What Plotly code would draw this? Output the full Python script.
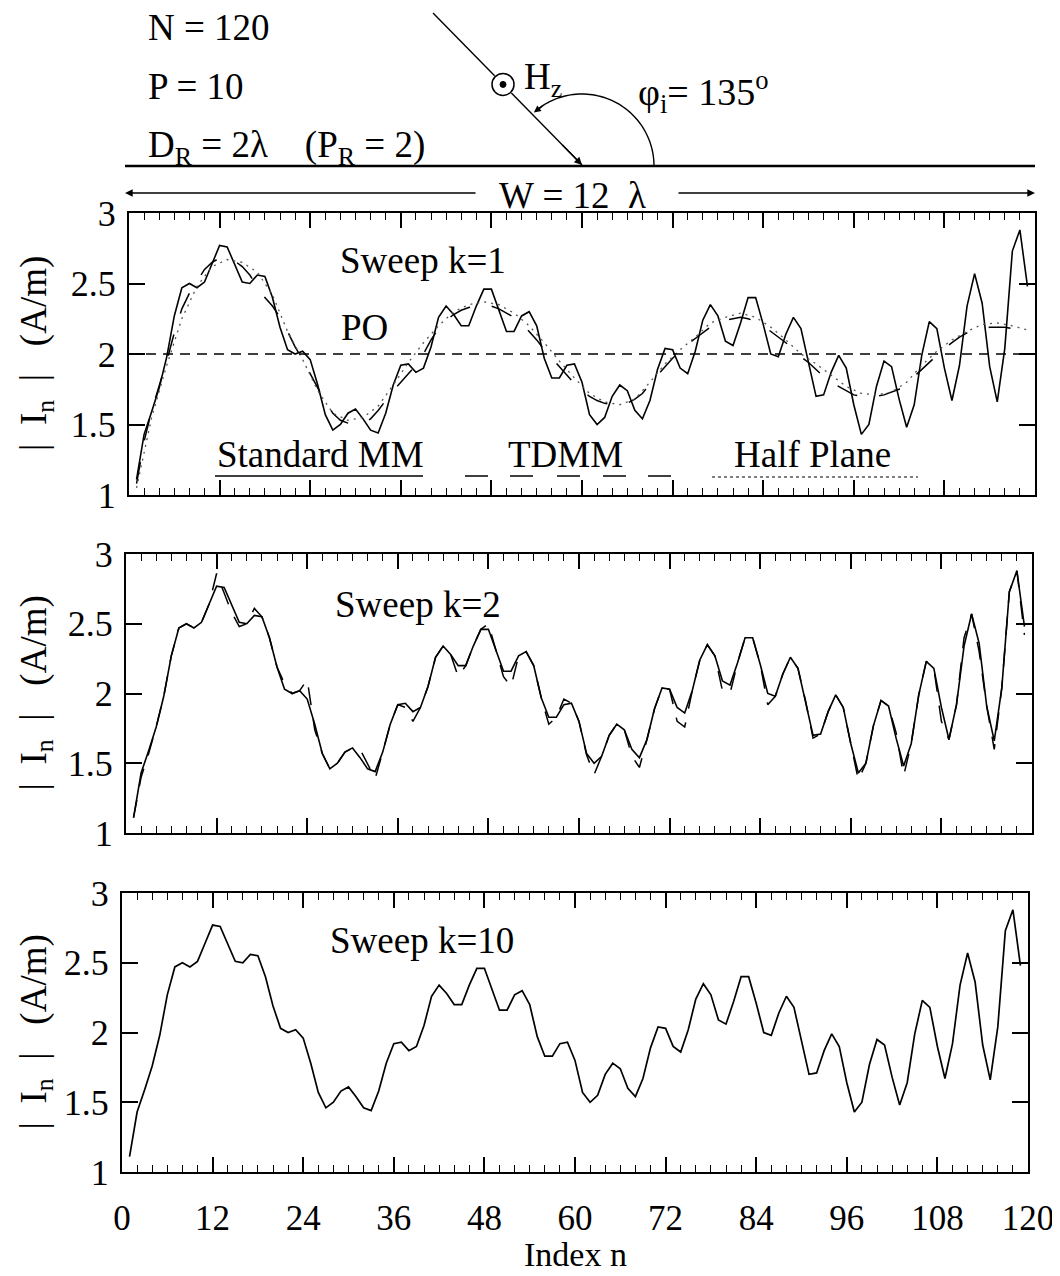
import numpy as np
import plotly.graph_objects as go

W, H = 1060, 1276
FONT = "Liberation Serif, Times New Roman, serif"

# ---------------- data ----------------
n_idx = list(range(1, 120))
mm = [1.11, 1.43, 1.59, 1.76, 1.98, 2.27, 2.47, 2.50, 2.47, 2.51,
      2.64, 2.77, 2.76, 2.64, 2.51, 2.50, 2.56, 2.55, 2.40, 2.19,
      2.03, 2.00, 2.02, 1.96, 1.78, 1.57, 1.46, 1.50, 1.58, 1.61,
      1.54, 1.46, 1.44, 1.58, 1.78, 1.92, 1.93, 1.87, 1.90, 2.05,
      2.26, 2.34, 2.28, 2.20, 2.20, 2.34, 2.46, 2.46, 2.31, 2.16,
      2.16, 2.27, 2.30, 2.20, 1.97, 1.83, 1.83, 1.92, 1.93, 1.80,
      1.57, 1.50, 1.55, 1.70, 1.78, 1.74, 1.60, 1.54, 1.67, 1.89,
      2.04, 2.03, 1.90, 1.86, 2.02, 2.24, 2.35, 2.27, 2.09, 2.06,
      2.22, 2.40, 2.40, 2.21, 2.00, 1.98, 2.14, 2.26, 2.18, 1.95,
      1.70, 1.71, 1.87, 1.99, 1.90, 1.64, 1.43, 1.50, 1.77, 1.95,
      1.91, 1.68, 1.48, 1.64, 1.99, 2.23, 2.18, 1.90, 1.67, 1.92,
      2.34, 2.57, 2.36, 1.91, 1.66, 2.04, 2.73, 2.88, 2.48]

tdmm_k1 = [1.08, 1.38, 1.60, 1.78, 1.95, 2.15, 2.32, 2.43, 2.52, 2.60,
           2.65, 2.68, 2.68, 2.66, 2.62, 2.56, 2.48, 2.40, 2.34, 2.26,
           2.16, 2.05, 1.96, 1.86, 1.76, 1.66, 1.58, 1.53, 1.51, 1.50,
           1.51, 1.54, 1.60, 1.67, 1.74, 1.80, 1.86, 1.92, 2.00, 2.10,
           2.18, 2.24, 2.28, 2.31, 2.33, 2.34, 2.35, 2.34, 2.32, 2.29,
           2.26, 2.21, 2.16, 2.10, 2.03, 1.97, 1.91, 1.85, 1.79, 1.74,
           1.70, 1.67, 1.65, 1.64, 1.64, 1.65, 1.68, 1.72, 1.79, 1.85,
           1.91, 1.97, 2.02, 2.07, 2.11, 2.15, 2.19, 2.22, 2.24, 2.25,
           2.26, 2.25, 2.23, 2.20, 2.16, 2.12, 2.08, 2.03, 1.98, 1.94,
           1.89, 1.84, 1.80, 1.77, 1.74, 1.71, 1.70, 1.70, 1.70, 1.71,
           1.73, 1.75, 1.79, 1.84, 1.89, 1.94, 1.99, 2.04, 2.08, 2.12,
           2.15, 2.17, 2.18, 2.19, 2.19, 2.19, 2.18, 2.17, 2.16]

tdmm_k2 = [1.11, 1.40, 1.57, 1.76, 1.98, 2.27, 2.47, 2.50, 2.47, 2.51,
           2.64, 2.86, 2.72, 2.58, 2.48, 2.50, 2.61, 2.55, 2.40, 2.19,
           2.07, 2.00, 2.02, 2.10, 1.74, 1.57, 1.46, 1.50, 1.58, 1.61,
           1.60, 1.50, 1.39, 1.58, 1.78, 1.92, 1.90, 1.80, 1.90, 2.05,
           2.26, 2.34, 2.28, 2.12, 2.20, 2.34, 2.46, 2.50, 2.31, 2.12,
           2.05, 2.27, 2.30, 2.20, 1.97, 1.78, 1.83, 1.96, 1.93, 1.80,
           1.56, 1.42, 1.55, 1.70, 1.78, 1.74, 1.55, 1.47, 1.67, 1.89,
           2.04, 2.03, 1.80, 1.76, 2.02, 2.24, 2.35, 2.27, 2.02, 2.00,
           2.22, 2.40, 2.40, 2.21, 1.92, 1.98, 2.14, 2.26, 2.18, 1.95,
           1.68, 1.71, 1.87, 1.99, 1.90, 1.64, 1.38, 1.50, 1.77, 1.95,
           1.91, 1.72, 1.41, 1.64, 1.99, 2.23, 2.18, 1.80, 1.67, 1.92,
           2.40, 2.57, 2.30, 1.91, 1.60, 2.04, 2.73, 2.88, 2.42]

hp_n = list(range(1, 120, 2))
half_plane = [1.05, 1.55, 1.92, 2.25, 2.48, 2.62, 2.67, 2.65, 2.58, 2.42,
              2.16, 1.96, 1.74, 1.58, 1.53, 1.55, 1.63, 1.78, 1.94, 2.08,
              2.20, 2.30, 2.35, 2.37, 2.35, 2.29, 2.20, 2.08, 1.95, 1.83,
              1.72, 1.66, 1.64, 1.68, 1.80, 1.93, 2.03, 2.12, 2.22, 2.26,
              2.29, 2.26, 2.19, 2.10, 2.00, 1.93, 1.85, 1.77, 1.72, 1.71,
              1.73, 1.80, 1.92, 2.02, 2.10, 2.16, 2.21, 2.22, 2.20, 2.17]

po_n = [0, 120]
po_val = [2.0, 2.0]

x_ticks = [0, 12, 24, 36, 48, 60, 72, 84, 96, 108, 120]
y_ticks = [1, 1.5, 2, 2.5, 3]
y_ticktext = ["1", "1.5", "2", "2.5", "3"]

# ---------------- layout helpers ----------------
OFF = 8  # page body margin offset compensation

def px(x):
    return (x - OFF) / W

def py(y):
    return 1 - (y - OFF) / H

# panel boxes in screen pixels: (left, right, top, bottom)
panels = [(129, 1035, 213, 495), (126, 1032, 554, 833), (122, 1028, 893, 1172)]

fig = go.Figure()
BLACK = "black"

# panel 1
fig.add_trace(go.Scatter(x=n_idx, y=mm, mode="lines", line=dict(color=BLACK, width=1.6),
                         xaxis="x", yaxis="y", showlegend=False))
fig.add_trace(go.Scatter(x=n_idx, y=tdmm_k1, mode="lines",
                         line=dict(color=BLACK, width=1.5, dash="22px,22px"),
                         xaxis="x", yaxis="y", showlegend=False))
fig.add_trace(go.Scatter(x=hp_n, y=half_plane, mode="lines",
                         line=dict(color="#555", width=1.3, dash="2px,5px"),
                         xaxis="x", yaxis="y", showlegend=False))
fig.add_trace(go.Scatter(x=po_n, y=po_val, mode="lines",
                         line=dict(color=BLACK, width=1.4, dash="10px,7px"),
                         xaxis="x", yaxis="y", showlegend=False))
# panel 2
fig.add_trace(go.Scatter(x=n_idx, y=mm, mode="lines", line=dict(color=BLACK, width=1.6),
                         xaxis="x2", yaxis="y2", showlegend=False))
fig.add_trace(go.Scatter(x=n_idx, y=tdmm_k2, mode="lines",
                         line=dict(color=BLACK, width=1.5, dash="18px,14px"),
                         xaxis="x2", yaxis="y2", showlegend=False))
# panel 3
fig.add_trace(go.Scatter(x=n_idx, y=mm, mode="lines", line=dict(color=BLACK, width=1.7),
                         xaxis="x3", yaxis="y3", showlegend=False))

layout = dict(
    template="none",
    width=W, height=H, autosize=False,
    margin=dict(l=0, r=0, t=0, b=0, pad=0),
    paper_bgcolor="white", plot_bgcolor="white",
    font=dict(family=FONT, color=BLACK, size=36),
)

for i, (l, r, t, b) in enumerate(panels):
    sfx = "" if i == 0 else str(i + 1)
    layout["xaxis" + sfx] = dict(
        domain=[px(l), px(r)], range=[0, 120], anchor="y" + sfx,
        automargin=False,
        showline=True, linecolor=BLACK, linewidth=2, mirror="allticks",
        ticks="inside", ticklen=15, tickwidth=1.5, tickcolor=BLACK,
        tickvals=x_ticks, showgrid=False, zeroline=False,
        minor=dict(dtick=2, ticks="inside", ticklen=7, tickwidth=1.3,
                   tickcolor=BLACK, showgrid=False),
        showticklabels=(i == 2), tickfont=dict(size=35, family=FONT, color=BLACK),
        ticklabelstandoff=14,
    )
    layout["yaxis" + sfx] = dict(
        domain=[py(b), py(t)], range=[1, 3], anchor="x" + sfx,
        automargin=False,
        showline=True, linecolor=BLACK, linewidth=2, mirror="allticks",
        ticks="inside", ticklen=16, tickwidth=1.5, tickcolor=BLACK,
        tickvals=y_ticks, ticktext=y_ticktext, showgrid=False, zeroline=False,
        tickfont=dict(size=36, family=FONT, color=BLACK), ticklabelstandoff=4,
    )

fig.update_layout(**layout)

# ---------------- annotations (text) ----------------
ann = []
def text(s, x, y, xanchor="center", size=37, yanchor="middle", angle=0):
    ann.append(dict(text=s, x=px(x), y=py(y), xref="paper", yref="paper",
                    xanchor=xanchor, yanchor=yanchor, showarrow=False,
                    textangle=angle, font=dict(family=FONT, size=size, color=BLACK)))

text("N = 120", 146, 28, xanchor="left")
text("P = 10", 146, 86, xanchor="left")
text("D<sub>R</sub> = 2λ    (P<sub>R</sub> = 2)", 146, 147, xanchor="left")
text("H<sub>z</sub>", 522, 80, xanchor="left")
text("φ<sub>i</sub>= 135<sup>o</sup>", 636, 92, xanchor="left", size=38)
text("W = 12  λ", 572, 195)

text("Sweep k=1", 423, 260)
text("PO", 364, 328)
text("Standard MM", 320, 454)
text("TDMM", 565, 454)
text("Half Plane", 812, 454)
text("Sweep k=2", 418, 604)
text("Sweep k=10", 422, 940)

for (l, r, t, b) in panels:
    text("|  I<sub>n</sub>  |   (A/m)", 36, (t + b) / 2, angle=-90)
text("Index n", 575, 1254, size=34)

# arrows
def arrow(hx, hy, tx, ty, size=1.1):
    ann.append(dict(x=px(hx), y=py(hy), xref="paper", yref="paper",
                    ax=tx - hx, ay=ty - hy, axref="pixel", ayref="pixel",
                    showarrow=True, arrowhead=2, arrowsize=size, arrowwidth=1.4,
                    arrowcolor=BLACK, text=""))

# W double arrow
arrow(125, 193, 477, 193)
arrow(1035, 193, 677, 193)

# incident ray
ray_start = np.array([433.0, 13.0])
ray_tip = np.array([582.0, 165.0])
d = (ray_tip - ray_start) / np.linalg.norm(ray_tip - ray_start)
circ_c = ray_start + d * 100.0
rc = 11.0
arrow(ray_tip[0], ray_tip[1], ray_tip[0] - d[0] * 30, ray_tip[1] - d[1] * 30)

# arc arrow
ac = np.array([582.0, 166.0])
ar = 72.0
th_end = np.deg2rad(132)
head = ac + ar * np.array([np.cos(th_end), -np.sin(th_end)])
th_t = np.deg2rad(122)
tail = ac + ar * np.array([np.cos(th_t), -np.sin(th_t)])
arrow(head[0], head[1], tail[0], tail[1], size=1.0)

fig.update_layout(annotations=ann)

# ---------------- shapes ----------------
shapes = []
def line(x0, y0, x1, y1, width=1.4, dash="solid", color=BLACK):
    shapes.append(dict(type="line", xref="paper", yref="paper",
                       x0=px(x0), y0=py(y0), x1=px(x1), y1=py(y1),
                       line=dict(color=color, width=width, dash=dash)))

# ground line
line(125, 166, 1035, 166, width=2.5)
# ray segments around the circle marker
p1 = circ_c - d * (rc + 1)
p2 = circ_c + d * (rc + 1)
line(ray_start[0], ray_start[1], p1[0], p1[1], width=1.4)
line(p2[0], p2[1], ray_tip[0], ray_tip[1], width=1.4)
shapes.append(dict(type="circle", xref="paper", yref="paper",
                   x0=px(circ_c[0] - rc), x1=px(circ_c[0] + rc),
                   y0=py(circ_c[1] + rc), y1=py(circ_c[1] - rc),
                   line=dict(color=BLACK, width=1.5), fillcolor="white"))
shapes.append(dict(type="circle", xref="paper", yref="paper",
                   x0=px(circ_c[0] - 3), x1=px(circ_c[0] + 3),
                   y0=py(circ_c[1] + 3), y1=py(circ_c[1] - 3),
                   line=dict(color=BLACK, width=1), fillcolor=BLACK))
# arc
th = np.deg2rad(np.linspace(0, 130, 60))
pts = [(px(ac[0] + ar * np.cos(t)), py(ac[1] - ar * np.sin(t))) for t in th]
path = "M " + " L ".join(f"{x:.5f},{y:.5f}" for x, y in pts)
shapes.append(dict(type="path", xref="paper", yref="paper", path=path,
                   line=dict(color=BLACK, width=1.4)))

# legend samples in panel 1
line(215, 476, 423, 476, width=1.5)
for x0 in [465, 510, 557, 603, 648]:
    line(x0, 476, x0 + 23, 476, width=1.5)
line(712, 477, 918, 477, width=1.3, dash="dot", color="#555")

fig.update_layout(shapes=shapes)

fig.write_html("out.html")
